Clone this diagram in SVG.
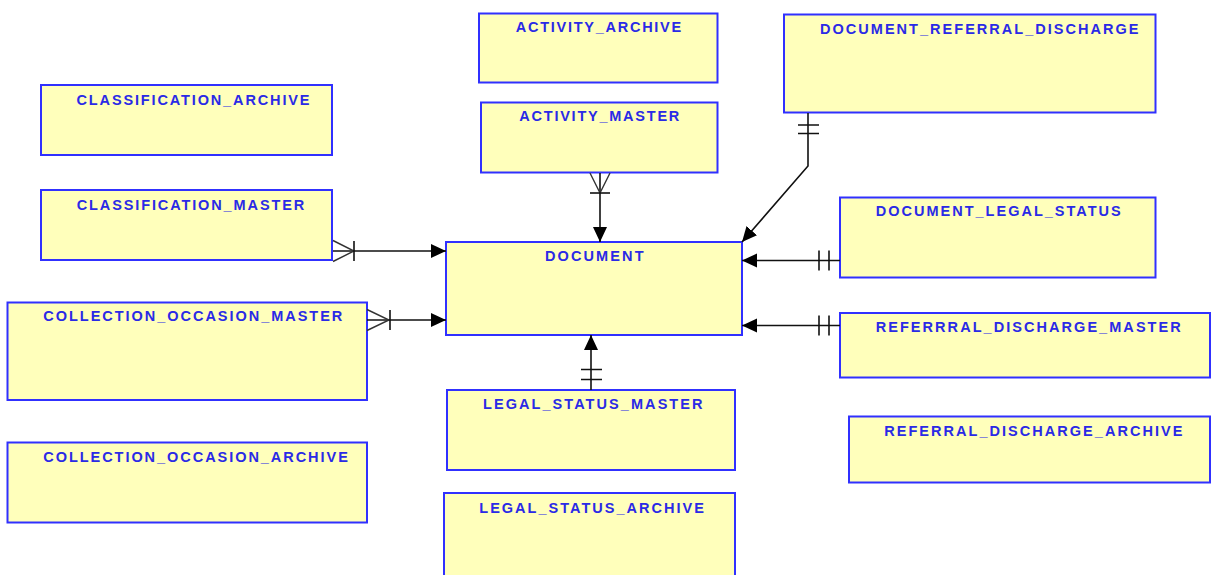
<svg xmlns="http://www.w3.org/2000/svg" width="1211" height="575" viewBox="0 0 1211 575">
<style>
.box{fill:#ffffbb;stroke:#3030ff;stroke-width:2}
.lbl{font-family:"Liberation Sans",Arial,sans-serif;font-size:14.5px;font-weight:bold;fill:#2a2ae6}
.ln{fill:none;stroke:#111;stroke-width:1.6}
.ft{fill:none;stroke:#333;stroke-width:1.4}
</style>
<defs>
<marker id="arr" markerUnits="userSpaceOnUse" markerWidth="16" markerHeight="16" refX="15" refY="7" orient="auto">
<path d="M0,0 L15,7 L0,14 z" fill="#000"/>
</marker>
</defs>
<rect width="1211" height="575" fill="#fff"/>
<g id="CLASSIFICATION_ARCHIVE"><rect class="box" x="41" y="85" width="291" height="70"/><text class="lbl" x="76.5" y="104.5" textLength="233" lengthAdjust="spacing">CLASSIFICATION_ARCHIVE</text></g>
<g id="CLASSIFICATION_MASTER"><rect class="box" x="41" y="190" width="291" height="70"/><text class="lbl" x="76.7" y="210" textLength="227.5" lengthAdjust="spacing">CLASSIFICATION_MASTER</text></g>
<g id="COLLECTION_OCCASION_MASTER"><rect class="box" x="7.5" y="302.5" width="359.5" height="97.5"/><text class="lbl" x="43.3" y="321" textLength="299" lengthAdjust="spacing">COLLECTION_OCCASION_MASTER</text></g>
<g id="COLLECTION_OCCASION_ARCHIVE"><rect class="box" x="7.5" y="442.5" width="359.5" height="80"/><text class="lbl" x="43.3" y="461.5" textLength="304.5" lengthAdjust="spacing">COLLECTION_OCCASION_ARCHIVE</text></g>
<g id="ACTIVITY_ARCHIVE"><rect class="box" x="479" y="13.5" width="238.5" height="69"/><text class="lbl" x="515.7" y="31.5" textLength="165.5" lengthAdjust="spacing">ACTIVITY_ARCHIVE</text></g>
<g id="ACTIVITY_MASTER"><rect class="box" x="481" y="102.5" width="236.5" height="70"/><text class="lbl" x="519.3" y="120.5" textLength="160" lengthAdjust="spacing">ACTIVITY_MASTER</text></g>
<g id="DOCUMENT"><rect class="box" x="446" y="242" width="296" height="93"/><text class="lbl" x="545" y="260.8" textLength="98.5" lengthAdjust="spacing">DOCUMENT</text></g>
<g id="DOCUMENT_REFERRAL_DISCHARGE"><rect class="box" x="784" y="14.5" width="371.5" height="98"/><text class="lbl" x="820" y="33.5" textLength="318.5" lengthAdjust="spacing">DOCUMENT_REFERRAL_DISCHARGE</text></g>
<g id="DOCUMENT_LEGAL_STATUS"><rect class="box" x="840" y="197.5" width="315.5" height="80"/><text class="lbl" x="875.7" y="216" textLength="245" lengthAdjust="spacing">DOCUMENT_LEGAL_STATUS</text></g>
<g id="REFERRRAL_DISCHARGE_MASTER"><rect class="box" x="840" y="313" width="370" height="64.5"/><text class="lbl" x="875.7" y="332" textLength="305" lengthAdjust="spacing">REFERRRAL_DISCHARGE_MASTER</text></g>
<g id="REFERRAL_DISCHARGE_ARCHIVE"><rect class="box" x="849" y="416.5" width="361" height="66"/><text class="lbl" x="884.3" y="435.5" textLength="298" lengthAdjust="spacing">REFERRAL_DISCHARGE_ARCHIVE</text></g>
<g id="LEGAL_STATUS_MASTER"><rect class="box" x="447" y="390" width="288" height="80"/><text class="lbl" x="483" y="409" textLength="219.5" lengthAdjust="spacing">LEGAL_STATUS_MASTER</text></g>
<g id="LEGAL_STATUS_ARCHIVE"><rect class="box" x="444" y="493" width="291" height="90"/><text class="lbl" x="479.3" y="512.5" textLength="224.5" lengthAdjust="spacing">LEGAL_STATUS_ARCHIVE</text></g>
<g id="connectors">
<path class="ln" d="M333,251 H446" marker-end="url(#arr)"/>
<path class="ft" d="M333,240.5 L354,251 L333,261.5"/>
<path class="ln" d="M354,241 V261"/>
<path class="ln" d="M367,320 H446" marker-end="url(#arr)"/>
<path class="ft" d="M367,309.5 L389,320 L367,330.5"/>
<path class="ln" d="M390,310 V330"/>
<path class="ln" d="M600,173 V242" marker-end="url(#arr)"/>
<path class="ft" d="M590,173 L600,193 L610,173"/>
<path class="ln" d="M590,193 H610"/>
<path class="ln" d="M808,113 V166 L742,242" marker-end="url(#arr)"/>
<path class="ln" d="M798,125 H819 M798,133.5 H819"/>
<path class="ln" d="M840,260.5 H742" marker-end="url(#arr)"/>
<path class="ln" d="M819,250.5 V270.5 M829,250.5 V270.5"/>
<path class="ln" d="M840,325.5 H742" marker-end="url(#arr)"/>
<path class="ln" d="M819,315.5 V335.5 M829,315.5 V335.5"/>
<path class="ln" d="M591,390 V335" marker-end="url(#arr)"/>
<path class="ln" d="M581,369.5 H602 M581,379.5 H602"/>
</g>
</svg>
